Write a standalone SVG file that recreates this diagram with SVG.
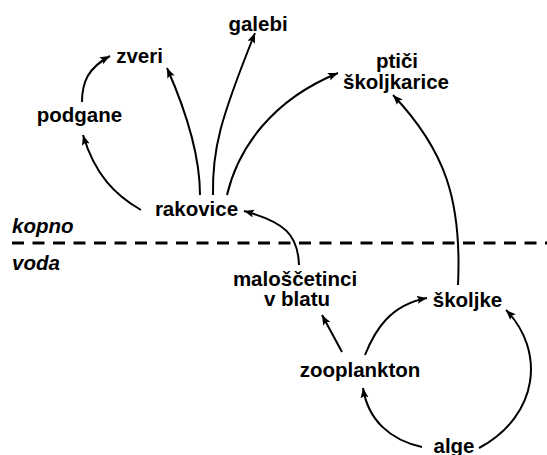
<svg xmlns="http://www.w3.org/2000/svg" width="547" height="455" viewBox="0 0 547 455">
  <defs>
    <marker id="arrow" markerUnits="userSpaceOnUse" markerWidth="11" markerHeight="9" refX="10" refY="4" orient="auto">
      <path d="M0,0 L10,4 L0,8 L2,4 z" fill="#000"/>
    </marker>
  </defs>
  <style>
    .lbl { font-family: "Liberation Sans", Arial, sans-serif; font-weight: bold; font-size: 20.5px; fill: #000; text-anchor: middle; }
    .zone { font-family: "Liberation Sans", Arial, sans-serif; font-weight: bold; font-style: italic; font-size: 20.5px; fill: #000; }
    .edge { fill: none; stroke: #000; stroke-width: 2; marker-end: url(#arrow); }
  </style>
  <rect width="547" height="455" fill="#fff"/>

  <!-- shoreline between land and water -->
  <g id="shoreline">
    <line x1="12" y1="243" x2="547" y2="243" stroke="#000" stroke-width="3.2" stroke-dasharray="12 8.5"/>
    <text class="zone" x="12" y="233">kopno</text>
    <text class="zone" x="12" y="270">voda</text>
  </g>

  <!-- feeding links -->
  <g id="connectors">
    <path class="edge" d="M141,210 C115,195 95,175 83,135"/>
    <path class="edge" d="M82,102 C82,82 88,68 110,56"/>
    <path class="edge" d="M200,195 C200,160 190,120 167,68"/>
    <path class="edge" d="M213,195 C212,150 220,120 255,33"/>
    <path class="edge" d="M227,195 C238,148 272,100 338,73"/>
    <path class="edge" d="M299,265 C298,235 285,222 244,211"/>
    <path class="edge" d="M458,285 C462,200 445,150 393,95"/>
    <path class="edge" d="M342,352 L322,315"/>
    <path class="edge" d="M365,355 C375,330 390,305 427,298"/>
    <path class="edge" d="M422,447 C390,440 368,420 363,388"/>
    <path class="edge" d="M479,448 C540,415 545,350 506,310"/>
  </g>

  <g id="galebi"><text class="lbl" x="258" y="31">galebi</text></g>
  <g id="zveri"><text class="lbl" x="139.5" y="63">zveri</text></g>
  <g id="ptici-skoljkarice">
    <text class="lbl" x="397" y="68">ptiči</text>
    <text class="lbl" x="396" y="88.5">školjkarice</text>
  </g>
  <g id="podgane"><text class="lbl" x="79.5" y="122">podgane</text></g>
  <g id="rakovice"><text class="lbl" x="196.5" y="216">rakovice</text></g>
  <g id="maloscetinci">
    <text class="lbl" x="295" y="286">maloščetinci</text>
    <text class="lbl" x="297" y="306">v blatu</text>
  </g>
  <g id="skoljke"><text class="lbl" x="467.5" y="307">školjke</text></g>
  <g id="zooplankton"><text class="lbl" x="360" y="377">zooplankton</text></g>
  <g id="alge"><text class="lbl" x="454" y="453">alge</text></g>
</svg>
